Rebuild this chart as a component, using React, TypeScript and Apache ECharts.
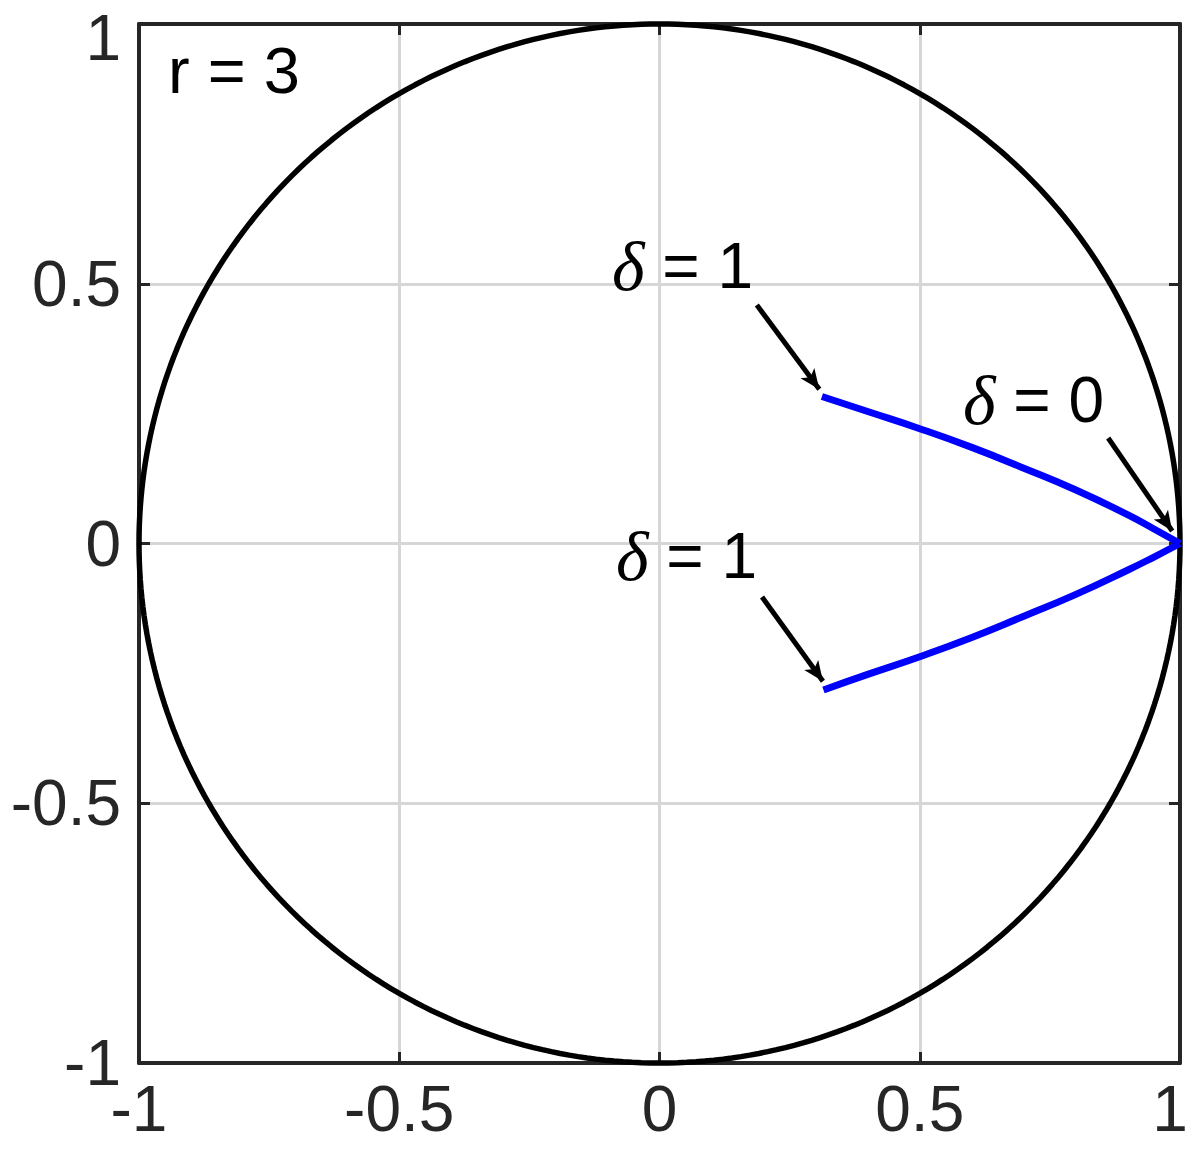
import React, { useEffect, useRef } from "react";
import * as echarts from "echarts";

// Blue locus (upper and lower branches)
const upperX = [1.0, 0.95, 0.9, 0.8, 0.7, 0.6, 0.5, 0.4, 0.312];
const upperY = [0.0, 0.028, 0.055, 0.103, 0.145, 0.185, 0.221, 0.254, 0.283];
const lowerX = [1.0, 0.95, 0.9, 0.8, 0.7, 0.6, 0.5, 0.4, 0.315];
const lowerY = [0.0, -0.026, -0.051, -0.098, -0.14, -0.181, -0.218, -0.252, -0.282];

// Annotation arrows
const arrowFrom = [
  [0.187, 0.459],
  [0.197, -0.103],
  [0.862, 0.203],
];
const arrowTo = [
  [0.307, 0.297],
  [0.314, -0.265],
  [0.985, 0.024],
];

const circleSteps = 360;

export default function App() {
  const ref = useRef<HTMLDivElement>(null);
  useEffect(() => {
    if (!ref.current) return;
    const chart = echarts.init(ref.current, null, { renderer: "svg" });
    const circle: number[][] = [];
    for (let i = 0; i <= circleSteps; i++) {
      const a = (i / circleSteps) * 2 * Math.PI;
      circle.push([Math.cos(a), Math.sin(a)]);
    }
    const axisColor = "#262626";
    const font = "'Liberation Sans', Arial, sans-serif";
    const labelStyle = { fontSize: 64, color: axisColor, fontFamily: font };
    const baseAxis = {
      type: "value" as const,
      min: -1,
      max: 1,
      interval: 0.5,
      axisLine: { show: true, onZero: false, lineStyle: { color: axisColor, width: 4 } },
      axisTick: { show: true, inside: true, length: 11, lineStyle: { color: axisColor, width: 3 } },
    };
    const deltaText = (label: string, x: number, y: number) => ({
      type: "text",
      x,
      y,
      style: {
        text: "{d|δ} = " + label,
        fontSize: 64,
        fontFamily: font,
        fill: "#000",
        verticalAlign: "middle",
        align: "left",
        rich: {
          d: {
            fontFamily: "'Liberation Serif', 'Times New Roman', serif",
            fontStyle: "italic",
            fontSize: 70,
            fill: "#000",
          },
        },
      },
      z: 100,
    });
    chart.setOption({
      animation: false,
      grid: { left: 139, right: 10, top: 24, bottom: 95, outerBoundsMode: "none", containLabel: false },
      xAxis: [
        {
          ...baseAxis,
          position: "bottom",
          axisLabel: {
            ...labelStyle,
            margin: 14,
            formatter: (v: number) => (v === 1 ? "{r|1}" : String(v)),
            rich: { r: { ...labelStyle, padding: [0, 20, 0, 0] } },
          },
          splitLine: { show: true, lineStyle: { color: "#d6d6d6", width: 3 } },
        },
        {
          ...baseAxis,
          position: "top",
          axisLabel: { show: false },
          splitLine: { show: false },
        },
      ],
      yAxis: [
        {
          ...baseAxis,
          position: "left",
          axisLabel: {
            ...labelStyle,
            margin: 18,
            formatter: (v: number) => (v === 1 ? "{t|1}" : String(v)),
            rich: { t: { ...labelStyle, padding: [28, 0, 0, 0] } },
          },
          splitLine: { show: true, lineStyle: { color: "#d6d6d6", width: 3 } },
        },
        {
          ...baseAxis,
          position: "right",
          axisLabel: { show: false },
          splitLine: { show: false },
        },
      ],
      series: [
        {
          type: "line",
          data: circle,
          showSymbol: false,
          clip: false,
          lineStyle: { color: "#000", width: 5.5 },
          z: 3,
        },
        {
          type: "line",
          data: upperX.map((x, i) => [x, upperY[i]]),
          showSymbol: false,
          smooth: true,
          lineStyle: { color: "#0000ff", width: 7 },
          clip: false,
          z: 4,
        },
        {
          type: "line",
          data: lowerX.map((x, i) => [x, lowerY[i]]),
          showSymbol: false,
          smooth: true,
          lineStyle: { color: "#0000ff", width: 7 },
          clip: false,
          z: 4,
          markLine: {
            silent: true,
            symbol: ["none", "arrow"],
            symbolSize: [13, 20],
            label: { show: false },
            lineStyle: { color: "#000", width: 5, type: "solid" },
            data: arrowFrom.map((f, i) => [{ coord: f }, { coord: arrowTo[i] }]),
          },
        },
      ],
      graphic: [
        deltaText("1", 612, 266),
        deltaText("1", 616, 556),
        deltaText("0", 963, 400),
        {
          type: "text",
          x: 168,
          y: 70,
          style: {
            text: "r = 3",
            fontSize: 65,
            fontFamily: font,
            fill: "#000",
            verticalAlign: "middle",
            align: "left",
          },
          z: 100,
        },
      ],
    });
    return () => chart.dispose();
  }, []);
  return (
    <div
      ref={ref}
      style={{ position: "absolute", left: 0, top: 0, width: 1190, height: 1158 }}
    />
  );
}
